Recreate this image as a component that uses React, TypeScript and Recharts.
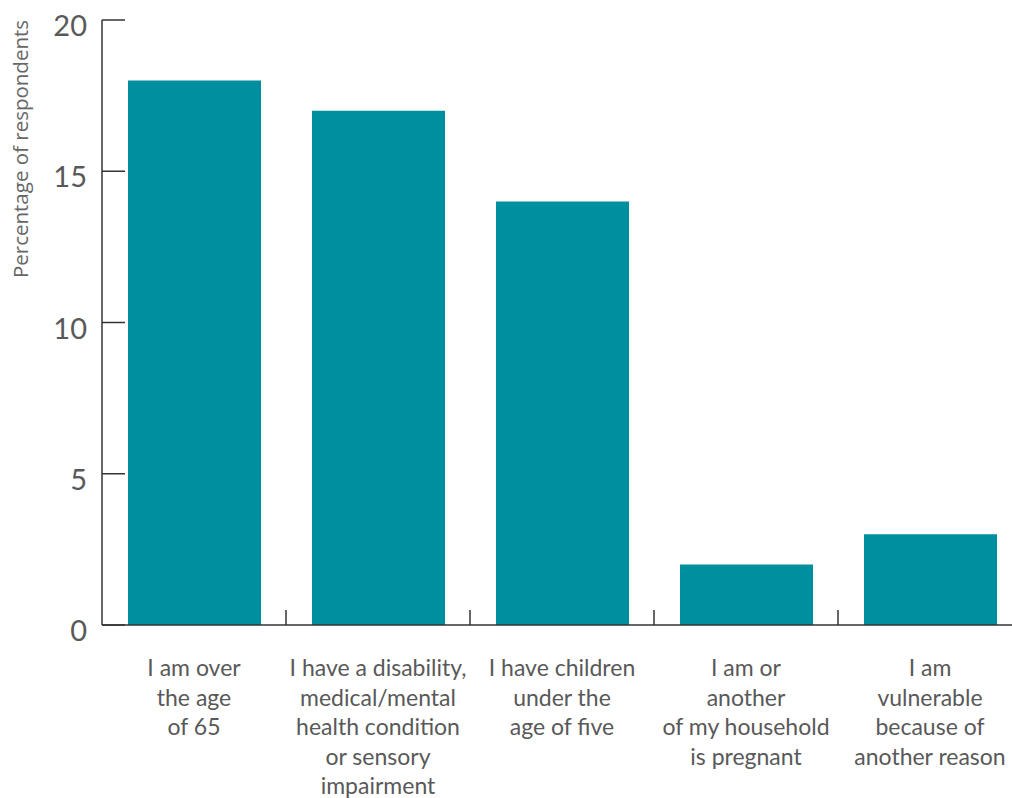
import { BarChart, Bar, XAxis, YAxis } from "recharts";

const categories = [
  "I am over the age of 65",
  "I have a disability, medical/mental health condition or sensory impairment",
  "I have children under the age of five",
  "I am or another of my household is pregnant",
  "I am vulnerable because of another reason",
];

const labelLines = [
  ["I am over", "the age", "of 65"],
  ["I have a disability,", "medical/mental", "health condition", "or sensory", "impairment"],
  ["I have children", "under the", "age of five"],
  ["I am or", "another", "of my household", "is pregnant"],
  ["I am", "vulnerable", "because of", "another reason"],
];

const percentages = [18, 17, 14, 2, 3];
const yTicks = [0, 5, 10, 15, 20];

const data = categories.map((name, i) => ({ name, value: percentages[i] }));

const FONT = "Lato, 'Open Sans', sans-serif";
const TEXT = "#595959";
const AXIS = "#333333";
const BAND = 184;

function YTick(props: any) {
  const { x, y, payload } = props;
  return (
    <g>
      <line x1={x} x2={x + 23} y1={y} y2={y} stroke={AXIS} strokeWidth={1.5} />
      <text x={x - 15} y={y + 16} textAnchor="end" fill={TEXT} fontSize={29} fontFamily={FONT}>
        {payload.value}
      </text>
    </g>
  );
}

function XTick(props: any) {
  const { x, y, index } = props;
  const lines = labelLines[index] || [];
  return (
    <g>
      {index > 0 && (
        <line x1={x - BAND / 2} x2={x - BAND / 2} y1={y} y2={y - 15} stroke={AXIS} strokeWidth={1.5} />
      )}
      {lines.map((l, k) => (
        <text key={k} x={x} y={y + 51 + k * 29.5} textAnchor="middle" fill={TEXT} fontSize={23} fontFamily={FONT}>
          {l}
        </text>
      ))}
    </g>
  );
}

function YLabel() {
  return (
    <text
      x={28}
      y={149}
      transform="rotate(-90 28 149)"
      textAnchor="middle"
      fill="#666"
      fontSize={20.5}
      fontFamily="'Open Sans', sans-serif"
    >
      Percentage of respondents
    </text>
  );
}

export default function App() {
  return (
    <div style={{ position: "absolute", left: 0, top: 0, width: 1012, height: 798, overflow: "hidden", background: "#fff" }}>
      <BarChart
        width={1030}
        height={798}
        data={data}
        margin={{ top: 20, right: 8, left: 0, bottom: 143 }}
        barSize={133}
      >
        <XAxis
          dataKey="name"
          height={30}
          interval={0}
          tickLine={false}
          tickSize={0}
          tickMargin={0}
          tick={<XTick />}
          axisLine={{ stroke: AXIS, strokeWidth: 1.5 }}
        />
        <YAxis
          width={102}
          domain={[0, 20]}
          ticks={yTicks}
          tickLine={false}
          tickSize={0}
          tickMargin={0}
          tick={<YTick />}
          axisLine={{ stroke: AXIS, strokeWidth: 1.5 }}
          label={{ content: () => <YLabel /> }}
        />
        <Bar dataKey="value" fill="#008f9e" isAnimationActive={false} />
      </BarChart>
    </div>
  );
}
